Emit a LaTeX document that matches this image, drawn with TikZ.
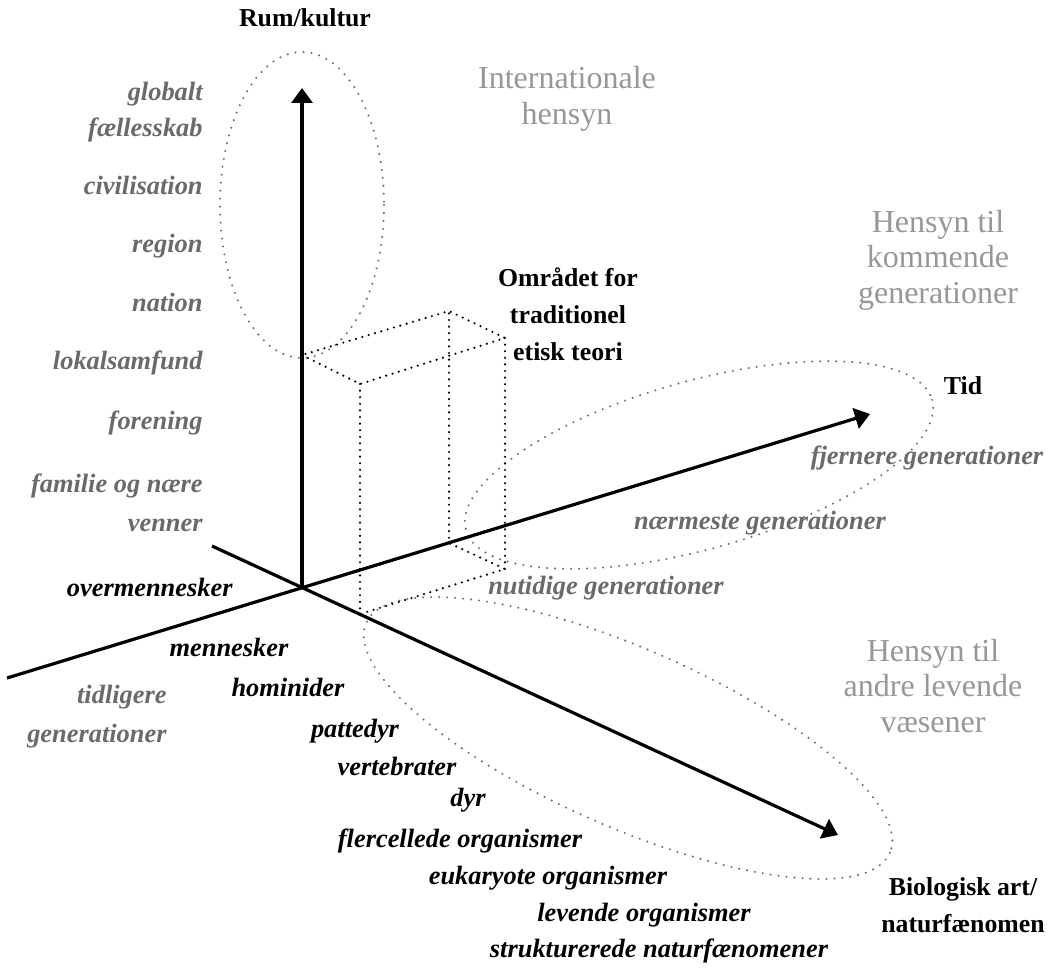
\documentclass[tikz,border=0pt]{standalone}
\usepackage{fontspec}
\setmainfont{Liberation Serif}
\usetikzlibrary{arrows.meta}
\definecolor{labgray}{RGB}{105,106,109}
\definecolor{softgray}{RGB}{150,151,154}
\definecolor{ringgray}{RGB}{110,110,112}
\tikzset{
  axis/.style = {line width = 1.6pt, -{Triangle[length = 7.5pt, width = 10.5pt]}},
  ring/.style = {ringgray, line width = 1.15pt, line cap = round, dash pattern = on 0pt off 4pt},
  boxline/.style = {black, line width = 1.2pt, line cap = round, dash pattern = on 0pt off 3.3pt},
  axlabel/.style = {font = \fontsize{12.9}{18.5}\selectfont\bfseries, align = center, inner sep = 0pt},
  scalelab/.style = {labgray, font = \fontsize{13.2}{19.5}\selectfont\bfseries\itshape, inner sep = 0pt},
  biolab/.style = {black, font = \fontsize{13.2}{19.5}\selectfont\bfseries\itshape, inner sep = 0pt},
  zone/.style = {softgray, font = \fontsize{16}{17.8}\selectfont, align = center, inner sep = 0pt}
}
\begin{document}
\begin{tikzpicture}[x = .5pt, y = -.5pt]
        \useasboundingbox (0, 0) rectangle (1053, 974);
        \coordinate (O) at (302, 587);
        \coordinate (rumtip) at (302, 88);
        \coordinate (tidstart) at (7, 678);
        \coordinate (tidtip) at (870, 414);
        \coordinate (biostart) at (212, 546);
        \coordinate (biotip) at (838, 835);
        \coordinate (A) at (302, 355);
        \coordinate (B) at (360, 384);
        \coordinate (C) at (449, 311);
        \coordinate (D) at (505, 338);
        \coordinate (Bb) at (360, 614);
        \coordinate (Cb) at (449, 543);
        \coordinate (Db) at (505, 569);
        \draw[ring] (302, 205) ellipse [x radius = 82, y radius = 153];
        \draw[ring, rotate around = {15.6:(699, 465)}] (699, 465) ellipse [x radius = 242, y radius = 84];
        \draw[ring, rotate around = {-23.7:(628, 738)}] (628, 738) ellipse [x radius = 286, y radius = 89];
        \draw[boxline] (A) -- (B) -- (D) -- (C) -- cycle;
        \draw[boxline] (B) -- (Bb) -- (Db) -- (Cb) -- (C);
        \draw[boxline] (D) -- (Db);
        \draw[axis] (O) -- (rumtip);
        \draw[axis] (tidstart) -- (tidtip);
        \draw[axis] (biostart) -- (biotip);
        \node[axlabel, anchor = mid] (rum) at (305, 22) {Rum/kultur};
        \node[axlabel, anchor = mid] (tid) at (963, 390) {Tid};
        \node[axlabel] (bio) at (963, 905) {Biologisk art/\\naturfænomen};
        \node[axlabel] (omr) at (568, 314) {Området for\\traditionel\\etisk teori};
        \node[zone] (intl) at (567, 99) {Internationale\\hensyn};
        \node[zone] (komm) at (938, 260) {Hensyn til\\kommende\\generationer};
        \node[zone] (andre) at (933, 686) {Hensyn til\\andre levende\\væsener};
        \foreach \name/\ypos/\txt in {glob/96/globalt, faell/132/fællesskab, civ/190/civilisation,
                reg/248/region, nat/307/nation, lok/365/lokalsamfund, foren/425/forening}
        \node[scalelab, anchor = mid east] (\name) at (203, \ypos) {\txt};
        \node[scalelab, align = right, anchor = east] (famil) at (203, 503) {familie og nære\\venner};
        \node[scalelab, align = right, anchor = east] (tidl) at (167, 717) {tidligere\\generationer};
        \node[scalelab, anchor = mid] (nutid) at (606, 590) {nutidige generationer};
        \node[scalelab, anchor = mid] (naerm) at (760, 525) {nærmeste generationer};
        \node[scalelab, anchor = mid] (fjern) at (927, 460) {fjernere generationer};
        \node[biolab, anchor = mid east] (overm) at (233, 592) {overmennesker};
        \foreach \name/\xpos/\ypos/\txt in {menn/229/652/mennesker, homin/288/692/hominider,
                patte/355/733/pattedyr, verteb/397/771/vertebrater, dyr/468/802/dyr,
                flerc/460/843/flercellede organismer, eukar/548/880/eukaryote organismer,
                leven/644/917/levende organismer, struk/659/953/strukturerede naturfænomener}
        \node[biolab, anchor = mid] (\name) at (\xpos, \ypos) {\txt};
\end{tikzpicture}
\end{document}
